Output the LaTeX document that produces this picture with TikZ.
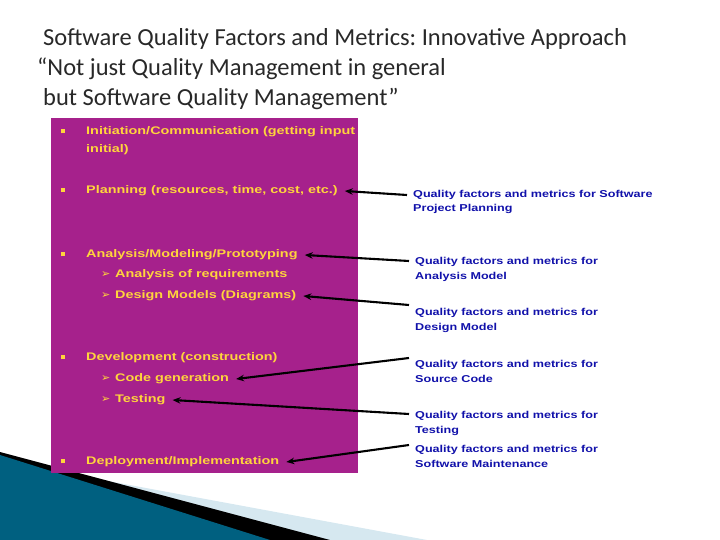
\documentclass[tikz,border=0pt]{standalone}
\usepackage{fontspec}
\setmainfont{Liberation Sans}
\newfontfamily\headfont{Carlito}
\newfontfamily\phasefont[FakeStretch=1.31]{Liberation Sans}
\newfontfamily\qualfont[FakeStretch=1.26]{Liberation Sans}
\newfontfamily\symfont{DejaVu Sans}
\usetikzlibrary{arrows.meta}

\definecolor{slidemagenta}{RGB}{166,33,140}
\definecolor{phaseyellow}{RGB}{255,212,60}
\definecolor{qualblue}{RGB}{17,17,170}
\definecolor{tealdark}{RGB}{0,96,128}
\definecolor{teallight}{RGB}{88,180,210}
\definecolor{paleblue}{RGB}{214,232,240}
\definecolor{headgray}{RGB}{40,40,40}

\newcommand{\sqbullet}{\makebox[25pt][l]{\rule[1.5pt]{4pt}{4pt}}}
\newcommand{\subbullet}{\makebox[14pt][l]{\symfont\fontsize{11}{11}\selectfont ➢}}

\tikzset{
    headline/.style={anchor=west, inner sep=0pt, text=headgray, font=\headfont\fontsize{24.5}{30}\selectfont\frenchspacing},
    phase/.style={anchor=west, inner xsep=7pt, inner ysep=1pt, text=phaseyellow, font=\phasefont\bfseries\fontsize{11}{18}\selectfont, align=left},
    quality/.style={anchor=west, inner xsep=6pt, inner ysep=0pt, text=qualblue, font=\qualfont\bfseries\fontsize{10}{14.5}\selectfont, align=left},
    link/.style={-{Stealth[length=8pt,width=6.5pt]}, line width=2.1pt, black},
}

\begin{document}
\begin{tikzpicture}[x=1pt, y=-1pt]
    \useasboundingbox (0,0) rectangle (720,540);

    % corner decoration
    \fill[paleblue] (0,461) -- (427,540) -- (0,540) -- cycle;
    \fill[black] (0,452) -- (330,540) -- (0,540) -- cycle;
    \shade[left color=tealdark, middle color=teallight, right color=tealdark] (0,455) -- (270,540) -- (0,540) -- cycle;

    % title
    \node[headline] (t1) at (43,39) {Software Quality Factors and Metrics: Innovative Approach};
    \node[headline] (t2) at (37,69) {“Not just Quality Management in general};
    \node[headline] (t3) at (43,99) {but Software Quality Management”};

    % process phases
    \fill[slidemagenta] (51,118) rectangle (358,473);
    \node[phase] (init) at (54,141) {\sqbullet Initiation/Communication (getting input\\\hspace*{25pt}initial)};
    \node[phase] (plan) at (54,191) {\sqbullet Planning (resources, time, cost, etc.)};
    \node[phase] (anal) at (54,255) {\sqbullet Analysis/Modeling/Prototyping};
    \node[phase] (req) at (94,275) {\subbullet Analysis of requirements};
    \node[phase] (design) at (94,296) {\subbullet Design Models (Diagrams)};
    \node[phase] (dev) at (54,358) {\sqbullet Development (construction)};
    \node[phase] (code) at (94,379) {\subbullet Code generation};
    \node[phase] (test) at (94,400) {\subbullet Testing};
    \node[phase] (deploy) at (54,462) {\sqbullet Deployment/Implementation};

    % quality factors
    \node[quality] (qplan) at (407,202) {Quality factors and metrics for Software\\Project Planning};
    \node[quality] (qanal) at (409,269.5) {Quality factors and metrics for\\Analysis Model};
    \node[quality] (qdesign) at (409,320.5) {Quality factors and metrics for\\Design Model};
    \node[quality] (qcode) at (409,371.5) {Quality factors and metrics for\\Source Code};
    \node[quality] (qtest) at (409,423.5) {Quality factors and metrics for\\Testing};
    \node[quality] (qmaint) at (409,456.5) {Quality factors and metrics for\\Software Maintenance};

    \draw[link] ([yshift=7pt]qplan.west) -- (plan.east);
    \draw[link] ([yshift=8.5pt]qanal.west) -- (anal.east);
    \draw[link] ([yshift=15.5pt]qdesign.west) -- (design.east);
    \draw[link] ([yshift=13.5pt]qcode.west) -- (code.east);
    \draw[link] ([yshift=9.5pt]qtest.west) -- (test.east);
    \draw[link] ([yshift=11.5pt]qmaint.west) -- (deploy.east);
\end{tikzpicture}
\end{document}
